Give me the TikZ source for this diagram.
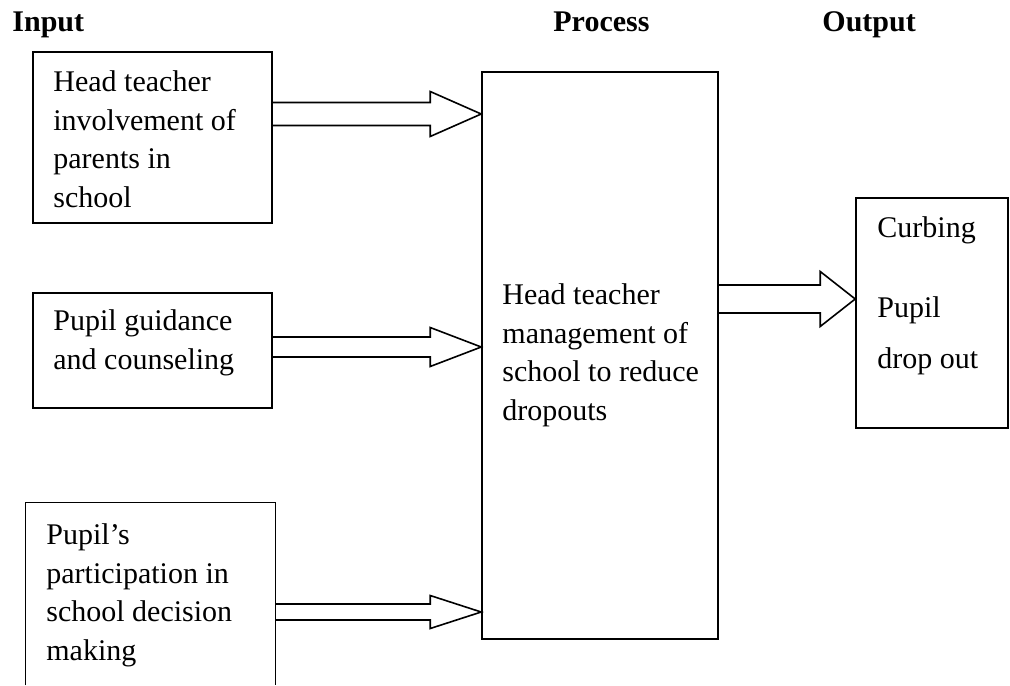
\documentclass[tikz,border=0pt]{standalone}
\usepackage{fontspec}
\setmainfont{Liberation Serif}
\usepackage{tikz}
\usetikzlibrary{shapes,arrows,positioning,calc,fit}
\tikzstyle{box} = [draw, line width=0.8pt, inner sep=0pt]
\tikzstyle{txt} = [anchor=base west, align=left, inner sep=0pt, font=\fontsize{15}{19.2}\selectfont]
\tikzstyle{head} = [anchor=base west, inner sep=0pt, font=\fontsize{15}{19.2}\selectfont\bfseries]
\tikzstyle{line} = [draw, line width=0.8pt, line join=miter]

% hollow block arrow: start, tip, shaft half width, head half width, head length
\newcommand{\blockarrow}[5]{%
  \path [line] ($(#1)+(0,-#3)$) -- ($(#2)+(-#5,-#3)$) -- ($(#2)+(-#5,-#4)$) -- (#2)
    -- ($(#2)+(-#5,#4)$) -- ($(#2)+(-#5,#3)$) -- ($(#1)+(0,#3)$);}

\begin{document}
\begin{tikzpicture}[x=0.5pt, y=-0.5pt]
				\useasboundingbox (0,0) rectangle (1010,685);

				\node [head] (hin) at (12,31) {Input};
				\node [head] (hproc) at (553,31) {Process};
				\node [head] (hout) at (822,31) {Output};

				\node [box, fit={(33,52) (272,223)}] (in1) {};
				\node [box, fit={(33,293) (272,408)}] (in2) {};
				\node [inner sep=0pt, fit={(26,503) (275,685)}] (in3) {};
				\node [box, fit={(482,72) (718,639)}] (proc) {};
				\node [box, fit={(856,198) (1008,428)}] (out) {};
				\path [line] (in3.south west) -- (in3.north west) -- (in3.north east) -- (in3.south east);

				% base = last line of each text
				\node [txt] (in1txt) at (53,207) {Head teacher\\involvement of\\parents in\\school};
				\node [txt] (in2txt) at (53,369) {Pupil guidance\\and counseling};
				\node [txt] (in3txt) at (46,660) {Pupil’s\\participation in\\school decision\\making};
				\node [txt] (proctxt) at (502,420) {Head teacher\\management of\\school to reduce\\dropouts};
				\node [txt] (outtxt) at (877,368) {Curbing\\[20.8pt]Pupil\\[6.3pt]drop out};

				\coordinate (y1) at (0,114);
				\coordinate (y2) at (0,347);
				\coordinate (y3) at (0,612);
				\coordinate (y4) at (0,299);
				\coordinate (s1) at (in1.east |- y1);
				\coordinate (t1) at (proc.west |- y1);
				\coordinate (s2) at (in2.east |- y2);
				\coordinate (t2) at (proc.west |- y2);
				\coordinate (s3) at (in3.east |- y3);
				\coordinate (t3) at (proc.west |- y3);
				\coordinate (s4) at (proc.east |- y4);
				\coordinate (t4) at (out.west |- y4);

				\blockarrow{s1}{t1}{11.5}{22.5}{51}
				\blockarrow{s2}{t2}{10}{19.5}{51}
				\blockarrow{s3}{t3}{8}{16.5}{51}
				\blockarrow{s4}{t4}{14}{27.5}{35}
			\end{tikzpicture}
\end{document}
